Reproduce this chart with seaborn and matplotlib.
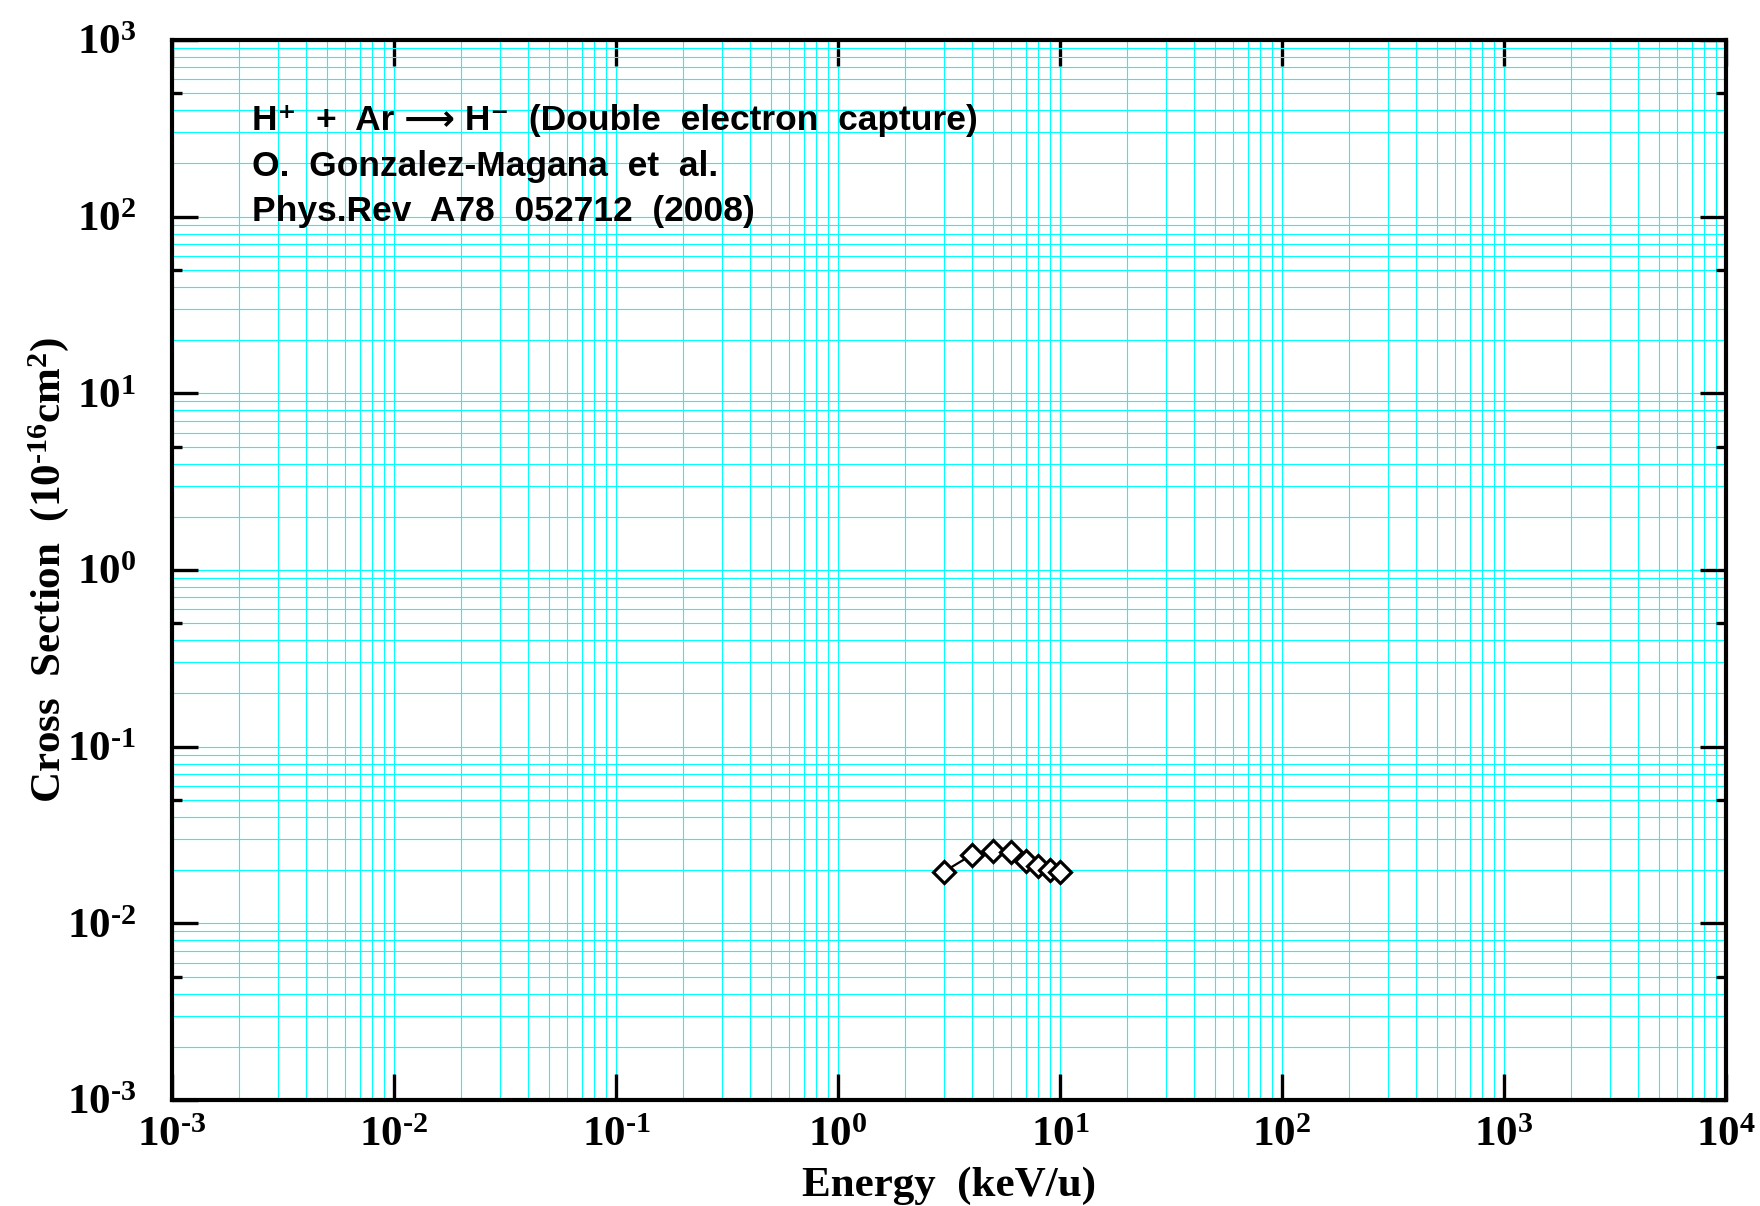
import numpy as np
import pandas as pd
import seaborn as sns
import matplotlib.pyplot as plt
from matplotlib.ticker import LogLocator, FuncFormatter, NullFormatter

# H+ + Ar -> H- double electron capture (Gonzalez-Magana et al. 2008)
energy = [3, 4, 5, 6, 7, 8, 9, 10]  # keV/u
cross_section = [0.0196, 0.0244, 0.0257, 0.0252, 0.0226, 0.0210, 0.0201, 0.0194]  # 1e-16 cm^2

note_lines = ["H\u207a  +  Ar \u27f6 H\u207b  (Double  electron  capture)",
              "O.  Gonzalez-Magana  et  al.",
              "Phys.Rev  A78  052712  (2008)"]

sns.set_style("ticks")
plt.rcParams['mathtext.fontset'] = 'custom'
plt.rcParams['mathtext.default'] = 'regular'
plt.rcParams['mathtext.rm'] = 'Liberation Serif:bold'
plt.rcParams['text.color'] = 'black'
plt.rcParams['axes.labelcolor'] = 'black'
plt.rcParams['xtick.color'] = 'black'
plt.rcParams['ytick.color'] = 'black'


def exp_label(v, p):
    e = int(round(np.log10(v)))
    if e < 0:
        return r"$10^{\text{-}%d}$" % (-e)
    return r"$10^{%d}$" % e


df = pd.DataFrame({"Energy": energy, "Sigma": cross_section})

fig = plt.figure(figsize=(17.6, 12.06), dpi=100)
ax = fig.add_axes([172 / 1760, 1 - 1100 / 1206, 1554 / 1760, 1060 / 1206])

sns.lineplot(data=df, x="Energy", y="Sigma", ax=ax, color="black", linewidth=1.6,
             marker="D", markersize=11, markerfacecolor="white", markeredgecolor="black",
             markeredgewidth=2.3, zorder=5)

ax.set_xscale("log")
ax.set_yscale("log")
ax.set_xlim(1e-3, 1e4)
ax.set_ylim(1e-3, 1e3)

for axis in (ax.xaxis, ax.yaxis):
    axis.set_major_locator(LogLocator(base=10, numticks=20))
    axis.set_minor_locator(LogLocator(base=10, subs=np.arange(2, 10), numticks=20))
    axis.set_major_formatter(FuncFormatter(exp_label))
    axis.set_minor_formatter(NullFormatter())

ax.grid(which="both", color="#00FFFF", linewidth=0.8)
ax.set_axisbelow(True)

for s in ax.spines.values():
    s.set_linewidth(3)
    s.set_color("black")
    s.set_zorder(10)

ax.tick_params(which="major", direction="in", length=19, width=2.4, top=True, right=True,
               colors="black")
ax.tick_params(axis="x", which="major", pad=12)
ax.tick_params(axis="y", which="major", pad=26)
ax.tick_params(which="minor", direction="in", length=0, width=2.4, top=True, right=True)

for lab in ax.get_xticklabels() + ax.get_yticklabels():
    lab.set_fontfamily("Liberation Serif")
    lab.set_fontweight("bold")
    lab.set_fontsize(31)

ax.set_xlabel("Energy  (keV/u)", fontfamily="Liberation Serif", fontweight="bold",
              fontsize=31)
ax.set_ylabel(r"Cross  Section  (10$^{\text{-}16}$cm$^{2}$)", fontfamily="Liberation Serif",
              fontweight="bold", fontsize=31)
ax.xaxis.set_label_coords(0.5, -0.063)
ax.yaxis.set_label_coords(-0.065, 0.5)

ys = [0.915, 0.872, 0.829]
for line, yy in zip(note_lines, ys):
    ax.text(0.0515, yy, line, transform=ax.transAxes,
            fontfamily=["Liberation Sans", "DejaVu Sans"],
            fontweight="bold", fontsize=25.5, va="baseline", ha="left")

# only the 5 x 10^n minor ticks on the y axis are drawn
fig.canvas.draw()
for t in ax.yaxis.get_minor_ticks():
    loc = t.get_loc()
    m = loc / 10 ** np.floor(np.log10(loc) + 1e-9)
    if abs(m - 5) < 1e-6:
        t.tick1line.set_markersize(7)
        t.tick2line.set_markersize(7)

fig.savefig("out.png", dpi=100)
